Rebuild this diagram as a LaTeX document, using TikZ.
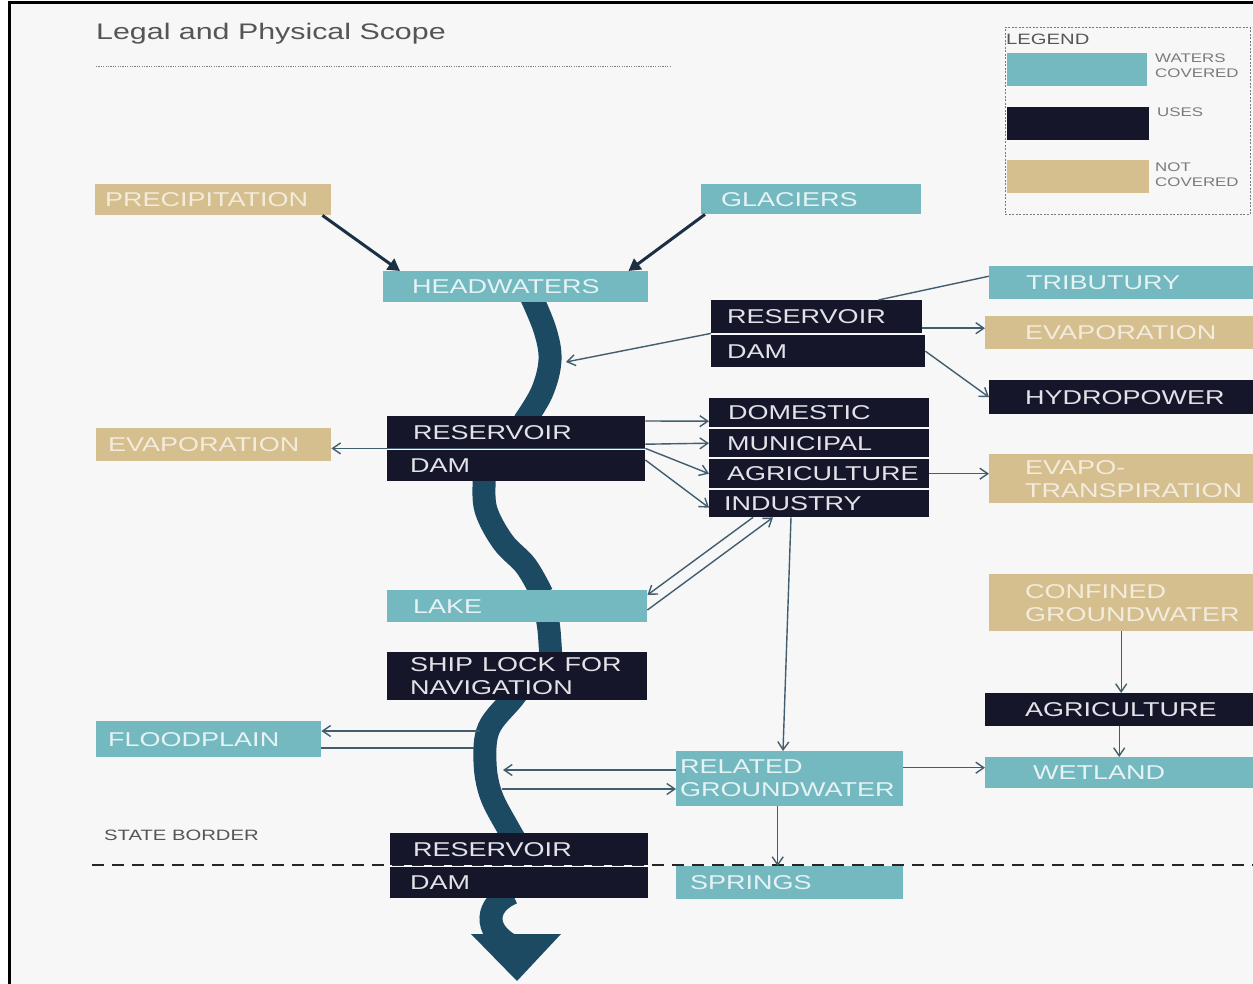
\documentclass[tikz,border=0pt]{standalone}
\usepackage{fontspec}
\usepackage{graphicx}
\setmainfont{Liberation Sans}
\usetikzlibrary{arrows.meta}
\definecolor{wteal}{HTML}{74B8C0}
\definecolor{wnavy}{HTML}{16162A}
\definecolor{wtan}{HTML}{D5BF8F}
\definecolor{bgc}{HTML}{F7F7F7}
\definecolor{rivc}{HTML}{1D4A63}
\definecolor{connc}{HTML}{425D6E}
\definecolor{thickc}{HTML}{1B2F45}
\definecolor{ttext}{HTML}{E6F3F5}
\definecolor{ntext}{HTML}{E2E2E8}
\definecolor{ktext}{HTML}{F3EBDC}
\definecolor{titlec}{HTML}{555555}
\definecolor{lgray}{HTML}{7A7A7A}
\newcommand{\wt}[1]{\scalebox{1.35}[1]{#1}}
\tikzset{
  box/.style={anchor=north west, inner xsep=0pt, inner ysep=0pt, align=left, font=\fontsize{20}{23}\selectfont},
  tealbox/.style={box, fill=wteal, text=ttext},
  navybox/.style={box, fill=wnavy, text=ntext},
  tanbox/.style={box, fill=wtan, text=ktext},
  conn/.style={draw=connc, line width=1.4pt, -{Straight Barb[length=8pt,width=11pt,line width=1.4pt]}},
  plainconn/.style={draw=connc, line width=1.4pt},
  thickarrow/.style={draw=thickc, line width=3pt, -{Triangle[length=12pt,width=13pt]}},
  river/.style={draw=rivc, line width=23pt},
  swatch/.style={anchor=north west, inner sep=0pt, minimum height=33pt}
}
\begin{document}
\begin{tikzpicture}[x=1pt,y=-1pt]
\useasboundingbox (0,0) rectangle (1253,984);
\clip (0,0) rectangle (1253,984);
\fill[white] (0,0) rectangle (1253,984);
\draw[line width=3pt, fill=bgc] (9,3) rectangle (1290,1020);

% title
\node[anchor=west, inner sep=0pt, font=\fontsize{22.5}{26}\selectfont, text=titlec] (title) at (96,34) {\wt{Legal and Physical Scope}};
\draw[gray, line width=0.8pt, dash pattern=on 1.2pt off 1.2pt] (96,66) -- (672,66);

% legend
\node[draw=lgray, line width=0.8pt, dash pattern=on 2pt off 1.5pt, anchor=north west, minimum width=245pt, minimum height=187pt, inner sep=0pt] (legend) at (1005,27) {};
\node[anchor=west, inner sep=0pt, font=\fontsize{15}{17}\selectfont, text=titlec] (legt) at (1006,39) {\wt{LEGEND}};
\node[swatch, fill=wteal, minimum width=140pt] (sw1) at (1007,53) {};
\node[swatch, fill=wnavy, minimum width=142pt] (sw2) at (1007,107) {};
\node[swatch, fill=wtan, minimum width=142pt] (sw3) at (1007,160) {};
\node[anchor=north west, inner sep=0pt, align=left, font=\fontsize{12.5}{14.5}\selectfont, text=lgray] (lb1) at (1155,54) {\wt{WATERS}\\\wt{COVERED}};
\node[anchor=north west, inner sep=0pt, align=left, font=\fontsize{12.5}{14.5}\selectfont, text=lgray] (lb2) at (1157,108) {\wt{USES}};
\node[anchor=north west, inner sep=0pt, align=left, font=\fontsize{12.5}{14.5}\selectfont, text=lgray] (lb3) at (1155,163) {\wt{NOT}\\\wt{COVERED}};

% state border
\node[anchor=west, inner sep=0pt, font=\fontsize{15}{17}\selectfont, text=titlec] (sb) at (104,835) {\wt{STATE BORDER}};
\draw[black!85, line width=1.5pt, dash pattern=on 12pt off 8pt] (92,865) -- (1253,865);

% river
\draw[river] plot[smooth, tension=0.6] coordinates {(531,296) (545,330) (550,360) (542,392) (524,422)};
\draw[river] plot[smooth, tension=0.6] coordinates {(484,465) (484,480) (486,510) (503,542) (526,566) (542,594)};
\draw[river] plot[smooth, tension=0.6] coordinates {(546,612) (549,630) (551,660)};
\draw[river] plot[smooth, tension=0.6] coordinates {(526,680) (513,698) (489,728) (485,762) (491,795) (508,828) (518,845)};
\draw[river] (512,893) .. controls (486,904) and (482,930) .. (512,946);
\fill[rivc] (471,934) -- (561,934) -- (517,981) -- cycle;
\coordinate (rv1) at (566,362);
\coordinate (rvf1) at (480,731);
\coordinate (rvf2) at (474,748);
\coordinate (rvg1) at (503,770);
\coordinate (rvg2) at (502,789);

% boxes
\node[tanbox, text width=236pt, minimum height=31pt] (prec) at (95,184) {\hspace*{10pt}\wt{PRECIPITATION}};
\node[tealbox, text width=220pt, minimum height=30pt] (gla) at (701,184) {\hspace*{20pt}\wt{GLACIERS}};
\node[tealbox, text width=265pt, minimum height=31pt] (hw) at (383,271) {\hspace*{29pt}\wt{HEADWATERS}};
\node[tealbox, text width=264pt, minimum height=33pt] (trib) at (989,266) {\hspace*{37pt}\wt{TRIBUTURY}};
\node[navybox, text width=211pt, minimum height=33pt] (res1) at (711,300) {\hspace*{16pt}\wt{RESERVOIR}};
\node[navybox, text width=214pt, minimum height=32pt] (dam1) at (711,335) {\hspace*{16pt}\wt{DAM}};
\node[tanbox, text width=268pt, minimum height=33pt] (evap1) at (985,316) {\hspace*{40pt}\wt{EVAPORATION}};
\node[navybox, text width=264pt, minimum height=34pt] (hydro) at (989,380) {\hspace*{36pt}\wt{HYDROPOWER}};
\node[tanbox, text width=235pt, minimum height=33pt] (evap2) at (96,428) {\hspace*{12pt}\wt{EVAPORATION}};
\node[navybox, text width=258pt, minimum height=32pt] (res2) at (387,416) {\hspace*{26pt}\wt{RESERVOIR}};
\node[navybox, text width=258pt, minimum height=31pt] (dam2) at (387,450) {\hspace*{23pt}\wt{DAM}};
\node[navybox, text width=220pt, minimum height=29pt] (dom) at (709,398) {\hspace*{19pt}\wt{DOMESTIC}};
\node[navybox, text width=220pt, minimum height=28pt] (mun) at (709,429) {\hspace*{18pt}\wt{MUNICIPAL}};
\node[navybox, text width=220pt, minimum height=29pt] (agr) at (709,459) {\hspace*{18pt}\wt{AGRICULTURE}};
\node[navybox, text width=220pt, minimum height=27pt] (ind) at (709,490) {\hspace*{15pt}\wt{INDUSTRY}};
\node[tanbox, text width=264pt, minimum height=49pt] (evapt) at (989,454) {\hspace*{36pt}\wt{EVAPO-}\\\hspace*{36pt}\wt{TRANSPIRATION}};
\node[tealbox, text width=260pt, minimum height=32pt] (lake) at (387,590) {\hspace*{26pt}\wt{LAKE}};
\node[navybox, text width=260pt, minimum height=48pt] (ship) at (387,652) {\hspace*{23pt}\wt{SHIP LOCK FOR}\\\hspace*{23pt}\wt{NAVIGATION}};
\node[tanbox, text width=264pt, minimum height=57pt] (conf) at (989,574) {\hspace*{36pt}\wt{CONFINED}\\\hspace*{36pt}\wt{GROUNDWATER}};
\node[navybox, text width=268pt, minimum height=33pt] (agr2) at (985,693) {\hspace*{40pt}\wt{AGRICULTURE}};
\node[tealbox, text width=225pt, minimum height=36pt] (flood) at (96,721) {\hspace*{12pt}\wt{FLOODPLAIN}};
\node[tealbox, text width=227pt, minimum height=55pt] (rg) at (676,751) {\hspace*{4pt}\wt{RELATED}\\\hspace*{4pt}\wt{GROUNDWATER}};
\node[tealbox, text width=268pt, minimum height=31pt] (wet) at (985,757) {\hspace*{48pt}\wt{WETLAND}};
\node[navybox, text width=258pt, minimum height=32pt] (res3) at (390,833) {\hspace*{23pt}\wt{RESERVOIR}};
\node[navybox, text width=258pt, minimum height=31pt] (dam3) at (390,867) {\hspace*{20pt}\wt{DAM}};
\node[tealbox, text width=227pt, minimum height=33pt] (spr) at (676,866) {\hspace*{14pt}\wt{SPRINGS}};

% connectors
\draw[thickarrow] ([xshift=-9pt]prec.south east) -- ([xshift=17pt]hw.north west);
\draw[thickarrow] ([xshift=4pt]gla.south west) -- ([xshift=-20pt]hw.north east);
\draw[plainconn] ([yshift=6.5pt]trib.west) -- ([xshift=-44pt]res1.north east);
\draw[conn] ([yshift=-11.5pt]res1.east) -- ([yshift=4.5pt]evap1.west);
\draw[conn] (dam1.east) -- (hydro.west);
\draw[conn] (res1.south west) -- (rv1);
\draw[conn] (res2.south east) -- (evap2.east |- res2.south east);
\draw[conn] ([yshift=-5pt]res2.north east) -- ([yshift=-8.5pt]dom.west);
\draw[conn] ([yshift=-12pt]res2.east) -- (mun.west);
\draw[conn] (res2.south east) -- (agr.west);
\draw[conn] ([yshift=-10pt]dam2.north east) -- ([yshift=-4pt]ind.west);
\draw[conn] (agr.east) -- (evapt.west |- agr.east);
\draw[conn] ([xshift=44pt]ind.south west) -- ([yshift=-5pt]lake.north east);
\draw[conn] ([yshift=-20pt]lake.north east) -- ([xshift=64pt]ind.south west);
\draw[conn] ([xshift=82pt]ind.south west) -- ([xshift=107pt]rg.north west);
\draw[conn] (conf.south) -- (conf.south |- agr2.north);
\draw[conn] (agr2.south) -- (agr2.south |- wet.north);
\draw[conn] ([yshift=11pt]rg.east) -- ([yshift=5pt]wet.west);
\draw[conn] ([xshift=-12pt]rg.south) -- ([xshift=-12pt]spr.north);
\draw[conn] (rvf1) -- (flood.east |- rvf1);
\draw[plainconn] (flood.east |- rvf2) -- (rvf2);
\draw[conn] (rg.west |- rvg1) -- (rvg1);
\draw[conn] (rvg2) -- (rg.west |- rvg2);
\end{tikzpicture}
\end{document}
